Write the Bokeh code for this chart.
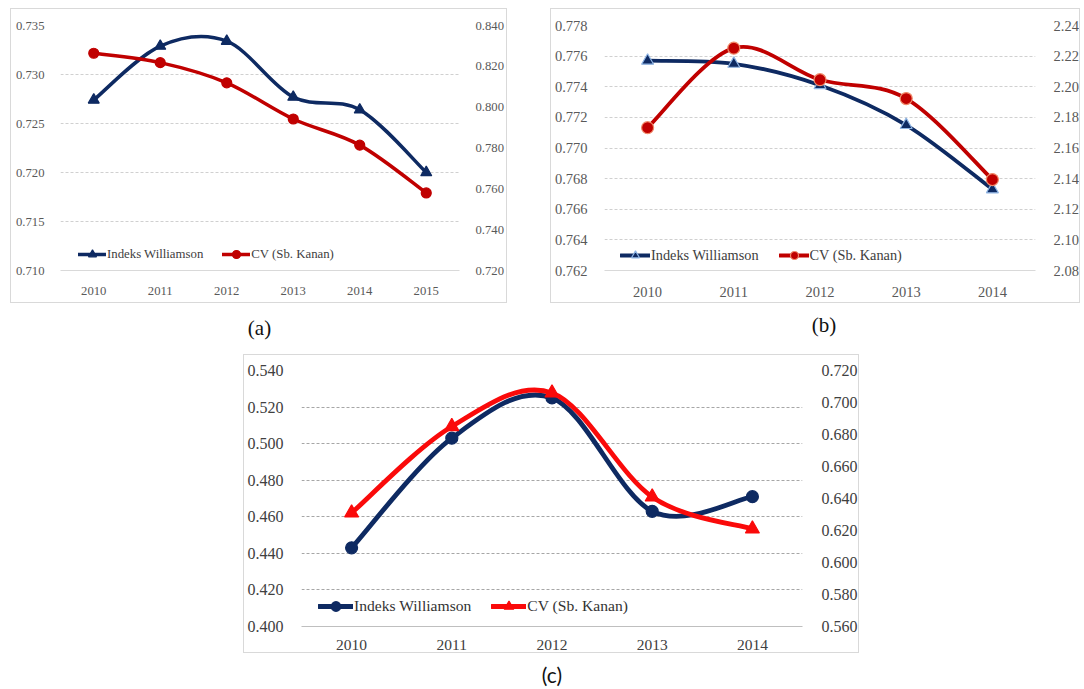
from bokeh.plotting import figure
from bokeh.models import (FactorRange, Range1d, LinearAxis, FixedTicker,
                          NumeralTickFormatter, Legend, LegendItem, Spacer, Div)
from bokeh.layouts import row, column
from bokeh.embed import file_html
from bokeh.resources import INLINE

# ---- data -------------------------------------------------------------
a_years = ["2010", "2011", "2012", "2013", "2014", "2015"]
a_williamson = [0.7274, 0.7329, 0.7334, 0.7277, 0.7264, 0.7200]
a_cv = [0.8264, 0.8218, 0.8119, 0.7942, 0.7814, 0.7580]
a_left_ticks = [0.710, 0.715, 0.720, 0.725, 0.730, 0.735]
a_right_ticks = [0.720, 0.740, 0.760, 0.780, 0.800, 0.820, 0.840]

b_years = ["2010", "2011", "2012", "2013", "2014"]
b_williamson = [0.7757, 0.7755, 0.7741, 0.7715, 0.7673]
b_cv = [2.1733, 2.2252, 2.2046, 2.1923, 2.1394]
b_left_ticks = [0.762, 0.764, 0.766, 0.768, 0.770, 0.772, 0.774, 0.776, 0.778]
b_right_ticks = [2.08, 2.10, 2.12, 2.14, 2.16, 2.18, 2.20, 2.22, 2.24]

c_years = ["2010", "2011", "2012", "2013", "2014"]
c_williamson = [0.443, 0.503, 0.525, 0.463, 0.471]
c_cv = [0.631, 0.685, 0.706, 0.641, 0.621]
c_left_ticks = [0.400, 0.420, 0.440, 0.460, 0.480, 0.500, 0.520, 0.540]
c_right_ticks = [0.560, 0.580, 0.600, 0.620, 0.640, 0.660, 0.680, 0.700, 0.720]

label_williamson = "Indeks Williamson"
label_cv = "CV (Sb. Kanan)"

NAVY = "#0e2a62"
DARK_RED = "#c00000"
BRIGHT_RED = "#fa0a0a"
SERIF = "Liberation Serif, Tinos, Times New Roman, Times, DejaVu Serif, serif"
SANS = "Lato, Open Sans, Noto Sans, sans-serif"


def smooth_segments(values):
    """Cubic Bezier pieces through the points (Catmull-Rom style, like
    Excel's smoothed lines). x positions are the category centres."""
    xs = [i + 0.5 for i in range(len(values))]
    n = len(values)
    seg = dict(x0=[], y0=[], x1=[], y1=[], cx0=[], cy0=[], cx1=[], cy1=[])
    for i in range(n - 1):
        p0 = max(i - 1, 0)
        p3 = min(i + 2, n - 1)
        seg["x0"].append(xs[i])
        seg["y0"].append(values[i])
        seg["x1"].append(xs[i + 1])
        seg["y1"].append(values[i + 1])
        seg["cx0"].append(xs[i] + (xs[i + 1] - xs[p0]) / 6.0)
        seg["cy0"].append(values[i] + (values[i + 1] - values[p0]) / 6.0)
        seg["cx1"].append(xs[i + 1] - (xs[p3] - xs[i]) / 6.0)
        seg["cy1"].append(values[i + 1] - (values[p3] - values[i]) / 6.0)
    return seg


def panel(years, left_vals, right_vals, left_ticks, right_ticks, right_fmt,
          width, height, borders, st):
    p = figure(
        width=width, height=height, output_backend="svg", toolbar_location=None,
        x_range=FactorRange(factors=years, range_padding=0, factor_padding=0),
        y_range=Range1d(left_ticks[0], left_ticks[-1]),
        min_border_left=borders[0], min_border_right=borders[1],
        min_border_top=borders[2], min_border_bottom=borders[3],
        background_fill_color="white", border_fill_color="white",
        outline_line_color=None, margin=(0, 0, 0, 0),
        styles={"border": "1px solid #d9d9d9"},
    )
    p.extra_y_ranges = {"right": Range1d(right_ticks[0], right_ticks[-1])}

    # left axis
    yax = p.yaxis[0]
    yax.ticker = FixedTicker(ticks=left_ticks)
    yax.formatter = NumeralTickFormatter(format="0.000")
    yax.major_label_standoff = st["ystand_l"]

    # right axis
    rax = LinearAxis(y_range_name="right", ticker=FixedTicker(ticks=right_ticks),
                     formatter=NumeralTickFormatter(format=right_fmt))
    rax.major_label_standoff = st["ystand_r"]
    p.add_layout(rax, "right")

    for ax in (yax, rax):
        ax.axis_line_color = None
        ax.major_tick_line_color = None
        ax.minor_tick_line_color = None
        ax.major_label_text_font = SERIF
        ax.major_label_text_font_size = st["font"]
        ax.major_label_text_color = st["text"]

    xax = p.xaxis[0]
    xax.axis_line_color = st["axis"]
    xax.axis_line_width = 1
    xax.major_tick_line_color = None
    xax.minor_tick_line_color = None
    xax.major_label_text_font = SERIF
    xax.major_label_text_font_size = st["xfont"]
    xax.major_label_text_color = st["text"]
    xax.major_label_standoff = st["xstand"]

    p.xgrid.grid_line_color = None
    p.ygrid.ticker = FixedTicker(ticks=left_ticks[1:])
    p.ygrid.grid_line_color = st["grid"]
    p.ygrid.grid_line_dash = "3 2"
    p.ygrid.grid_line_width = 1

    # series 1: Indeks Williamson (left axis)
    w_curve = p.bezier(source=smooth_segments(left_vals), x0="x0", y0="y0",
                       x1="x1", y1="y1", cx0="cx0", cy0="cy0", cx1="cx1", cy1="cy1",
                       line_color=NAVY, line_width=st["lw"], line_cap="round")
    w_mark = p.scatter(years, left_vals, marker=st["w_marker"], size=st["w_size"],
                       fill_color=NAVY, line_color=st["w_edge"], line_width=1.2)

    # series 2: CV (right axis)
    c_curve = p.bezier(source=smooth_segments(right_vals), x0="x0", y0="y0",
                       x1="x1", y1="y1", cx0="cx0", cy0="cy0", cx1="cx1", cy1="cy1",
                       line_color=st["red"], line_width=st["lw"], line_cap="round",
                       y_range_name="right")
    c_mark = p.scatter(years, right_vals, marker=st["c_marker"], size=st["c_size"],
                       fill_color=st["red"], line_color=st["c_edge"], line_width=1.2,
                       y_range_name="right")

    legend = Legend(
        items=[LegendItem(label=label_williamson, renderers=[w_curve, w_mark]),
               LegendItem(label=label_cv, renderers=[c_curve, c_mark])],
        orientation="horizontal", location=st["leg_loc"],
        border_line_color=None, background_fill_alpha=0,
        padding=0, margin=0, spacing=st["leg_spacing"],
        glyph_width=st["leg_gw"], glyph_height=st["leg_gh"],
        label_height=st["leg_gh"], label_standoff=1,
        label_text_font=SERIF, label_text_font_size=st["leg_font"],
        label_text_color=st["legtext"], label_text_baseline="middle",
    )
    p.add_layout(legend)
    return p


style_a = dict(font="12.7px", xfont="12.7px", text="#595959", legtext="#404040",
               axis="#d9d9d9", grid="#d0d0d0", lw=3.5, red=DARK_RED,
               w_marker="triangle", w_size=11, w_edge=NAVY,
               c_marker="circle", c_size=10, c_edge=DARK_RED,
               ystand_l=10, ystand_r=10, xstand=10,
               leg_loc=(18, 6), leg_spacing=19, leg_gw=28, leg_gh=20, leg_font="12.8px")
style_b = dict(font="14.5px", xfont="14.5px", text="#595959", legtext="#404040",
               axis="#d9d9d9", grid="#d0d0d0", lw=3.8, red=DARK_RED,
               w_marker="triangle", w_size=12, w_edge="#8eb4e3",
               c_marker="circle", c_size=12, c_edge="#f08a6a",
               ystand_l=11, ystand_r=12, xstand=10,
               leg_loc=(16, 5), leg_spacing=20, leg_gw=30, leg_gh=20, leg_font="14.3px")
style_c = dict(font="16px", xfont="15.5px", text="#404040", legtext="#333333",
               axis="#bfbfbf", grid="#a6a6a6", lw=4.8, red=BRIGHT_RED,
               w_marker="circle", w_size=12, w_edge=NAVY,
               c_marker="triangle", c_size=14, c_edge=BRIGHT_RED,
               ystand_l=12, ystand_r=13, xstand=7,
               leg_loc=(17, 8), leg_spacing=20, leg_gw=35, leg_gh=24, leg_font="15.6px")

pa = panel(a_years, a_williamson, a_cv, a_left_ticks, a_right_ticks, "0.000",
           497, 295, (49, 49, 15, 34), style_a)
pb = panel(b_years, b_williamson, b_cv, b_left_ticks, b_right_ticks, "0.00",
           530, 295, (51, 36, 16, 27), style_b)
pc = panel(c_years, c_williamson, c_cv, c_left_ticks, c_right_ticks, "0.000",
           616, 299, (56, 57, 15, 28), style_c)


def caption(text, width, height, font, pad_left, pad_top):
    html = ('<div style="font-family:%s;font-size:21px;line-height:22px;'
            'color:#111;text-align:center;box-sizing:border-box;width:%dpx;'
            'padding-left:%dpx;padding-top:%dpx;">%s</div>'
            % (font, width, pad_left, pad_top, text))
    return Div(text=html, width=width, height=height, margin=(0, 0, 0, 0))


top_row = row(Spacer(width=10, height=297), pa, Spacer(width=43, height=297), pb,
              spacing=0)
cap_row = row(Spacer(width=10, height=49),
              caption("(a)", 499, 49, SERIF, 0, 12),
              Spacer(width=43, height=49),
              caption("(b)", 532, 49, SERIF, 12, 9),
              spacing=0)
mid_row = row(Spacer(width=243, height=301), pc, spacing=0)
cap_c = caption("(c)", 1084, 34, SANS, 20, 9)

root = column(Spacer(width=1084, height=8), top_row, cap_row, mid_row, cap_c,
              spacing=0)

open("out.html", "w").write(file_html(root, INLINE))
